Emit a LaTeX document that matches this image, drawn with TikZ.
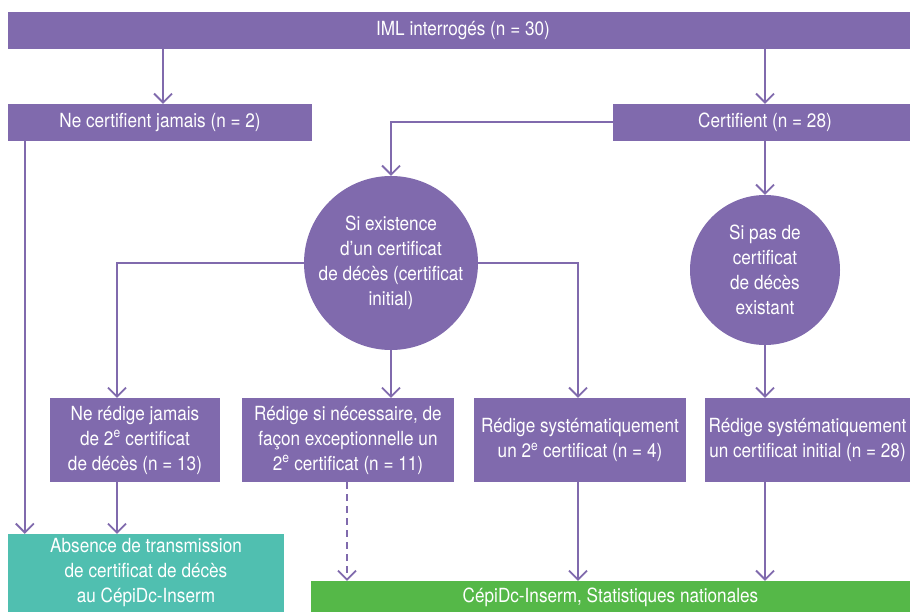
\documentclass[tikz,border=0pt]{standalone}
\usepackage{fontspec}
\setmainfont{TeX Gyre Heros}[FakeStretch=0.88]
\usepackage{tikz}
\usetikzlibrary{arrows.meta}
\definecolor{violetfig}{RGB}{128,106,173}
\definecolor{turquoisefig}{RGB}{80,191,176}
\definecolor{vertfig}{RGB}{85,184,72}

\begin{document}
\begin{tikzpicture}[x=1pt,y=-1pt]
      \tikzstyle{boite}=[rectangle, fill=violetfig, text=white, inner sep=0pt, align=center, font=\fontsize{19.5}{25}\selectfont]
      \tikzstyle{rond}=[circle, fill=violetfig, text=white, inner sep=0pt, align=center, font=\fontsize{19.5}{25}\selectfont]
      \tikzstyle{fleche}=[-{Straight Barb[length=9pt,width=18pt,line width=1.8pt]}, line width=2pt, draw=violetfig]

      \useasboundingbox (0,0) rectangle (910,612);

      \node[boite, minimum width=910pt, minimum height=37pt] (IML) at (463,30.5) {IML interrogés (n = 30)};
      \node[boite, minimum width=304pt, minimum height=37pt] (Jamais) at (160,122.5) {Ne certifient jamais (n = 2)};
      \node[boite, minimum width=304pt, minimum height=37pt] (Cert) at (765,122.5) {Certifient (n = 28)};
      \node[rond, minimum size=174pt] (Exist) at (391,263) {Si existence\\d’un certificat\\de décès (certificat\\initial)};
      \node[rond, minimum size=150pt] (Pas) at (765,270) {Si pas de\\certificat\\de décès\\existant};
      \node[boite, minimum width=170pt, minimum height=84pt] (NeRedige) at (135,440) {Ne rédige jamais\\de 2\textsuperscript{e} certificat\\de décès (n = 13)};
      \node[boite, minimum width=212pt, minimum height=84pt] (SiNec) at (348,440) {Rédige si nécessaire, de\\façon exceptionnelle un\\2\textsuperscript{e} certificat (n = 11)};
      \node[boite, minimum width=212pt, minimum height=84pt] (Syst) at (580,440) {Rédige systématiquement\\un 2\textsuperscript{e} certificat (n = 4)};
      \node[boite, minimum width=205pt, minimum height=84pt] (Init) at (807.5,440) {Rédige systématiquement\\un certificat initial (n = 28)};
      \node[boite, fill=turquoisefig, minimum width=276pt, minimum height=78pt] (Absence) at (146,573) {Absence de transmission\\de certificat de décès\\au CépiDc-Inserm};
      \node[boite, fill=vertfig, minimum width=599pt, minimum height=32pt] (Stat) at (610.5,597) {CépiDc-Inserm, Statistiques nationales};

      \draw[fleche] (IML.south -| 163,0)--(163,0 |- Jamais.north);
      \draw[fleche] (IML.south -| Cert)--(Cert.north);
      \draw[fleche] (Cert.west) -| (Exist.north);
      \draw[fleche] (Cert.south)--(Pas.north);
      \draw[fleche] (Exist.west) -| ([xshift=-18pt]NeRedige.north);
      \draw[fleche] (Exist.east) -| ([xshift=-2pt]Syst.north);
      \draw[fleche] (Exist.south)--(Exist.south |- SiNec.north);
      \draw[fleche] (Pas.south)--(Pas.south |- Init.north);
      \draw[fleche] ([xshift=17pt]Jamais.south west)--([xshift=17pt]Jamais.south west |- Absence.north);
      \draw[fleche] ([xshift=-18pt]NeRedige.south)--([xshift=-18pt]NeRedige.south |- Absence.north);
      \draw[fleche, dash pattern=on 7pt off 5pt] ([xshift=-1pt]SiNec.south)--([xshift=-1pt]SiNec.south |- Stat.north);
      \draw[fleche] ([xshift=-2pt]Syst.south)--([xshift=-2pt]Syst.south |- Stat.north);
      \draw[fleche] (Pas.south |- Init.south)--(Pas.south |- Stat.north);

    \end{tikzpicture}
\end{document}
